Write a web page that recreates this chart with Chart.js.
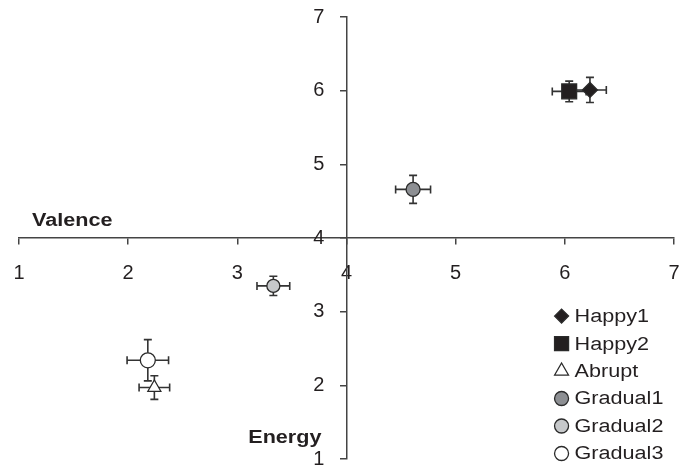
<!DOCTYPE html>
<html>
<head>
<meta charset="utf-8">
<script src="https://cdn.jsdelivr.net/npm/chart.js@4"></script>
<style>
  html, body { margin: 0; background: #fff; }
  #wrap { width: 680px; height: 468px; }
</style>
</head>
<body>
<div id="wrap"><canvas id="chart"></canvas></div>
<script>
// data
const seriesNames = ['Happy1', 'Happy2', 'Abrupt', 'Gradual1', 'Gradual2', 'Gradual3'];
const valence = [6.23, 6.04, 2.24, 4.61, 3.33, 2.18];
const energy = [6.01, 5.99, 1.97, 4.66, 3.35, 2.34];
const valenceErr = [0.15, 0.155, 0.14, 0.16, 0.15, 0.19];
const energyErr = [0.17, 0.14, 0.16, 0.19, 0.13, 0.28];
const tickValues = [1, 2, 3, 4, 5, 6, 7];

// marker looks
const markerStyles = ['rectRot', 'rect', 'triangle', 'circle', 'circle', 'circle'];
const markerRadius = [7.5, 10.5, 7.5, 7, 6.5, 7.5];
const legendRadius = [7, 9.9, 8, 7, 7, 7];
const markerFill = ['#231f20', '#231f20', '#ffffff', '#8d8f93', '#c6c8ca', '#ffffff'];

const lineColor = '#444';
const textColor = '#231f20';
const fontFamily = "'Liberation Sans', Arial, sans-serif";
const stretch = 1.2; // the source text is drawn a bit wide

const datasets = seriesNames.map((name, i) => ({
  label: name,
  data: [{ x: valence[i], y: energy[i] }],
  pointStyle: markerStyles[i],
  pointRadius: markerRadius[i],
  backgroundColor: markerFill[i],
  borderColor: '#2a2a2a',
  borderWidth: 1.3
}));

// error bars, drawn under the markers
const errorBars = {
  id: 'errorBars',
  beforeDatasetsDraw(chart) {
    const { ctx, scales: { x, y } } = chart;
    const cap = 4;
    ctx.save();
    ctx.strokeStyle = '#333';
    ctx.lineWidth = 1.6;
    valence.forEach((v, i) => {
      const px = x.getPixelForValue(v);
      const py = y.getPixelForValue(energy[i]);
      const xl = x.getPixelForValue(v - valenceErr[i]);
      const xr = x.getPixelForValue(v + valenceErr[i]);
      const yt = y.getPixelForValue(energy[i] + energyErr[i]);
      const yb = y.getPixelForValue(energy[i] - energyErr[i]);
      ctx.beginPath();
      ctx.moveTo(xl, py); ctx.lineTo(xr, py);
      ctx.moveTo(xl, py - cap); ctx.lineTo(xl, py + cap);
      ctx.moveTo(xr, py - cap); ctx.lineTo(xr, py + cap);
      ctx.moveTo(px, yt); ctx.lineTo(px, yb);
      ctx.moveTo(px - cap, yt); ctx.lineTo(px + cap, yt);
      ctx.moveTo(px - cap, yb); ctx.lineTo(px + cap, yb);
      ctx.stroke();
    });
    ctx.restore();
  }
};

function wideText(ctx, text, tx, ty) {
  ctx.save();
  ctx.translate(tx, ty);
  ctx.scale(stretch, 1);
  ctx.fillText(text, 0, 0);
  ctx.restore();
}

// axis titles and the legend in the lower right corner
const extras = {
  id: 'extras',
  afterDraw(chart) {
    const { ctx, scales: { x, y } } = chart;
    ctx.save();
    ctx.fillStyle = textColor;
    ctx.font = 'bold 18px ' + fontFamily;
    ctx.textBaseline = 'middle';
    ctx.textAlign = 'left';
    wideText(ctx, 'Valence', x.getPixelForValue(1.12), y.getPixelForValue(4.23));
    wideText(ctx, 'Energy', x.getPixelForValue(3.1), y.getPixelForValue(1.28));

    ctx.font = '18px ' + fontFamily;
    const lx = x.getPixelForValue(5.97);
    seriesNames.forEach((name, i) => {
      const ly = y.getPixelForValue(2.94 - i * 0.373);
      ctx.fillStyle = markerFill[i];
      ctx.strokeStyle = '#2a2a2a';
      ctx.lineWidth = 1.3;
      Chart.helpers.drawPoint(ctx, {
        pointStyle: markerStyles[i],
        radius: legendRadius[i],
        borderWidth: 1.3
      }, lx, ly);
      ctx.fillStyle = textColor;
      wideText(ctx, name, lx + 13, ly + 1);
    });
    ctx.restore();
  }
};

// the axes cross inside the plot, so their labels need no extra room
function noPadding(scale) {
  scale.paddingLeft = 0;
  scale.paddingRight = 0;
  scale.paddingTop = 0;
  scale.paddingBottom = 0;
}

new Chart(document.getElementById('chart'), {
  type: 'scatter',
  data: { datasets },
  options: {
    responsive: true,
    maintainAspectRatio: false,
    animation: false,
    layout: { autoPadding: false, padding: { left: 19, right: 6, top: 17, bottom: 9 } },
    plugins: {
      legend: { display: false },
      tooltip: { enabled: false }
    },
    scales: {
      x: {
        type: 'linear',
        min: 1,
        max: 7,
        position: { y: 4 },
        afterBuildTicks: (axis) => { axis.ticks = tickValues.map(v => ({ value: v })); },
        afterFit: noPadding,
        grid: { drawOnChartArea: false, tickLength: 6, color: lineColor, lineWidth: 1.5 },
        border: { color: lineColor, width: 1.5 },
        ticks: { color: textColor, padding: 0, font: { size: 20, family: fontFamily, lineHeight: 2.9 } }
      },
      y: {
        type: 'linear',
        min: 1,
        max: 7,
        position: { x: 4 },
        afterBuildTicks: (axis) => { axis.ticks = tickValues.map(v => ({ value: v })); },
        afterFit: noPadding,
        grid: { drawOnChartArea: false, tickLength: 6, color: lineColor, lineWidth: 1.5 },
        border: { color: lineColor, width: 1.5 },
        ticks: {
          color: textColor,
          padding: 0,
          font: { size: 20, family: fontFamily, lineHeight: 0.9 },
          // keep the labels clear of the axis line
          callback: (v) => v + '\u2007\u2007'
        }
      }
    }
  },
  plugins: [errorBars, extras]
});
</script>
</body>
</html>
